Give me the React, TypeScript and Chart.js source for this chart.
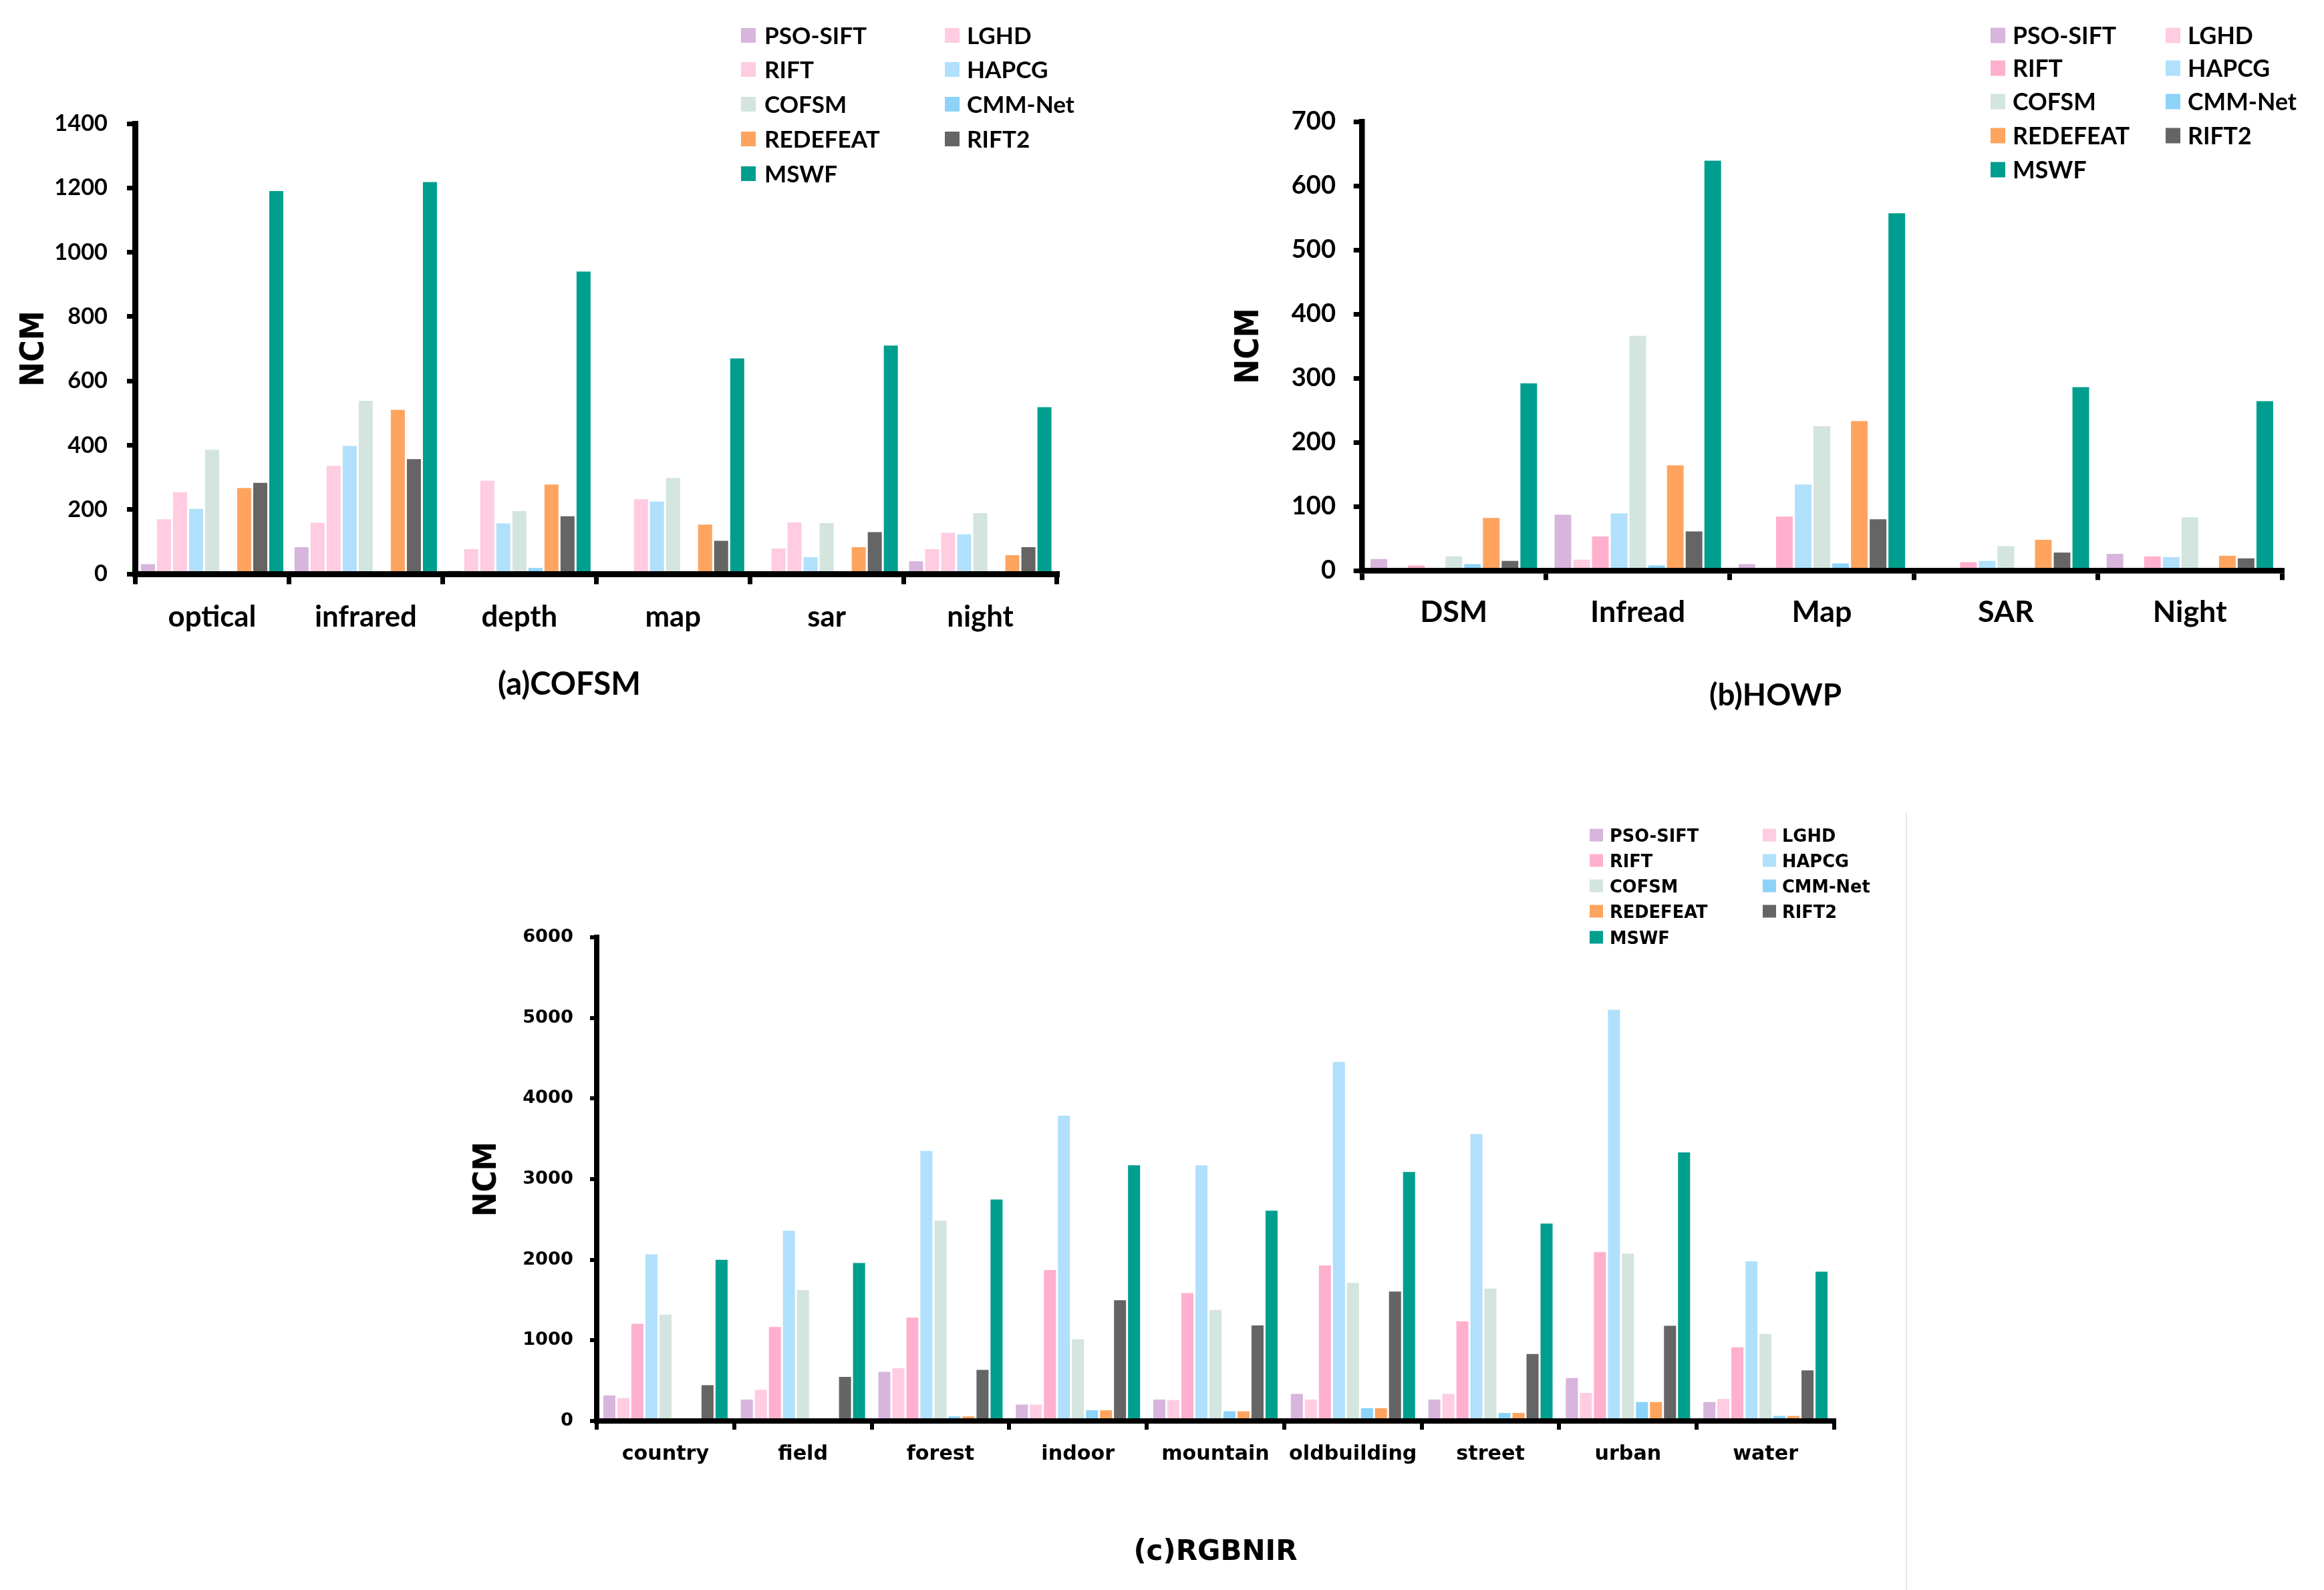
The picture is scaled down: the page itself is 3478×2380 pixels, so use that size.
import React, { useEffect, useRef } from "react";
import { Chart, registerables } from "chart.js";

Chart.register(...registerables);

// ---------------- data ----------------
const METHODS = ["PSO-SIFT", "LGHD", "RIFT", "HAPCG", "COFSM", "CMM-Net", "REDEFEAT", "RIFT2", "MSWF"];

// (a) COFSM dataset
const COFSM_CATEGORIES = ["optical", "infrared", "depth", "map", "sar", "night"];
const COFSM_Y_TICKS = [0, 200, 400, 600, 800, 1000, 1200, 1400];
const COFSM_PSO_SIFT = [30, 83, 10, 0, 0, 39];
const COFSM_LGHD = [170, 159, 77, 0, 79, 77];
const COFSM_RIFT = [254, 336, 290, 232, 160, 128];
const COFSM_HAPCG = [202, 398, 157, 225, 52, 123];
const COFSM_COFSM = [386, 538, 195, 298, 158, 189];
const COFSM_CMMNET = [5, 5, 18, 0, 0, 0];
const COFSM_REDEFEAT = [267, 510, 278, 153, 83, 58];
const COFSM_RIFT2 = [283, 357, 179, 103, 130, 83];
const COFSM_MSWF = [1190, 1218, 940, 670, 710, 518];

// (b) HOWP dataset
const HOWP_CATEGORIES = ["DSM", "Infread", "Map", "SAR", "Night"];
const HOWP_Y_TICKS = [0, 100, 200, 300, 400, 500, 600, 700];
const HOWP_PSO_SIFT = [18, 87, 10, 0, 26];
const HOWP_LGHD = [0, 17, 0, 0, 0];
const HOWP_RIFT = [8, 53, 84, 13, 22];
const HOWP_HAPCG = [0, 89, 134, 15, 21];
const HOWP_COFSM = [22, 366, 225, 38, 83];
const HOWP_CMMNET = [10, 8, 11, 0, 0];
const HOWP_REDEFEAT = [82, 164, 233, 48, 23];
const HOWP_RIFT2 = [15, 61, 80, 28, 19];
const HOWP_MSWF = [292, 639, 557, 286, 264];

// (c) RGBNIR dataset
const RGBNIR_CATEGORIES = ["country", "field", "forest", "indoor", "mountain", "oldbuilding", "street", "urban", "water"];
const RGBNIR_Y_TICKS = [0, 1000, 2000, 3000, 4000, 5000, 6000];
const RGBNIR_PSO_SIFT = [317, 266, 609, 203, 266, 336, 266, 533, 235];
const RGBNIR_LGHD = [285, 387, 654, 203, 260, 266, 336, 349, 273];
const RGBNIR_RIFT = [1205, 1167, 1282, 1872, 1586, 1929, 1237, 2094, 914];
const RGBNIR_HAPCG = [2068, 2360, 3350, 3788, 3172, 4454, 3560, 5101, 1980];
const RGBNIR_COFSM = [1320, 1624, 2487, 1015, 1377, 1713, 1643, 2075, 1079];
const RGBNIR_CMMNET = [30, 20, 57, 133, 120, 159, 100, 235, 63];
const RGBNIR_REDEFEAT = [30, 25, 57, 133, 120, 159, 100, 235, 63];
const RGBNIR_RIFT2 = [444, 546, 634, 1497, 1186, 1605, 831, 1180, 628];
const RGBNIR_MSWF = [1999, 1960, 2747, 3172, 2608, 3090, 2449, 3331, 1853];

// ---------------- styles ----------------
const COLORS_A = ["#D7B5DC", "#FFCCE1", "#FFCCE1", "#B1E0FC", "#D4E4DE", "#8DD3F9", "#FFA45F", "#656565", "#009E8E"];
const COLORS_BC = ["#D7B5DC", "#FFCCE1", "#FFB0CE", "#B1E0FC", "#D4E4DE", "#8DD3F9", "#FFA45F", "#656565", "#009E8E"];

type Spec = {
  key: string;
  box: { x: number; y: number; w: number; h: number };
  area: { l: number; t: number; r: number; b: number };
  categories: string[];
  series: number[][];
  ticks: number[];
  colors: string[];
  barPct: number;
  catPct: number;
  lineW: number;
  tickW: number;
  yTickOut: number;
  xTickOut: number;
  yLabelRight: number;
  xLabelCenter: number;
  ncmX: number;
  title: string;
  titlePos: [number, number];
  legend: { swX: [number, number]; txtX: [number, number]; rows: number[]; swW: number; swH: number };
  fonts: string[];
  fit: { tick: [string, number]; cat: [string, number]; legend: [string, number]; title: [string, number]; ncm: [string, number] };
};

const PANELS: Spec[] = [
  {
    key: "a",
    box: { x: 0, y: 0, w: 1720, h: 1100 },
    area: { l: 202.5, t: 185, r: 1582, b: 859 },
    categories: COFSM_CATEGORIES,
    series: [COFSM_PSO_SIFT, COFSM_LGHD, COFSM_RIFT, COFSM_HAPCG, COFSM_COFSM, COFSM_CMMNET, COFSM_REDEFEAT, COFSM_RIFT2, COFSM_MSWF],
    ticks: COFSM_Y_TICKS,
    colors: COLORS_A,
    barPct: 0.875,
    catPct: 0.94,
    lineW: 9,
    tickW: 7,
    yTickOut: 8,
    xTickOut: 11,
    yLabelRight: 161,
    xLabelCenter: 924,
    ncmX: 52,
    title: "(a)COFSM",
    titlePos: [852, 1025],
    legend: { swX: [1109, 1414], txtX: [1144, 1447], rows: [53, 104, 156, 208, 260], swW: 22, swH: 22 },
    fonts: ["Lato", "Open Sans", "sans-serif"],
    fit: { tick: ["1400", 77], cat: ["optical", 128], legend: ["PSO-SIFT", 150], title: ["(a)COFSM", 209], ncm: ["NCM", 106] },
  },
  {
    key: "b",
    box: { x: 1740, y: 0, w: 1738, h: 1100 },
    area: { l: 2038, t: 182, r: 3415, b: 854 },
    categories: HOWP_CATEGORIES,
    series: [HOWP_PSO_SIFT, HOWP_LGHD, HOWP_RIFT, HOWP_HAPCG, HOWP_COFSM, HOWP_CMMNET, HOWP_REDEFEAT, HOWP_RIFT2, HOWP_MSWF],
    ticks: HOWP_Y_TICKS,
    colors: COLORS_BC,
    barPct: 0.89,
    catPct: 0.916,
    lineW: 8.5,
    tickW: 7,
    yTickOut: 8,
    xTickOut: 10,
    yLabelRight: 1999,
    xLabelCenter: 917,
    ncmX: 1870,
    title: "(b)HOWP",
    titlePos: [2657, 1041],
    legend: { swX: [2979, 3241], txtX: [3012, 3274], rows: [53, 102, 152, 203, 254], swW: 22, swH: 23 },
    fonts: ["Lato", "Open Sans", "sans-serif"],
    fit: { tick: ["700", 64], cat: ["Infread", 136], legend: ["PSO-SIFT", 152], title: ["(b)HOWP", 196], ncm: ["NCM", 106] },
  },
  {
    key: "c",
    box: { x: 640, y: 1180, w: 2200, h: 1200 },
    area: { l: 893, t: 1403, r: 2745, b: 2127 },
    categories: RGBNIR_CATEGORIES,
    series: [RGBNIR_PSO_SIFT, RGBNIR_LGHD, RGBNIR_RIFT, RGBNIR_HAPCG, RGBNIR_COFSM, RGBNIR_CMMNET, RGBNIR_REDEFEAT, RGBNIR_RIFT2, RGBNIR_MSWF],
    ticks: RGBNIR_Y_TICKS,
    colors: COLORS_BC,
    barPct: 0.86,
    catPct: 0.918,
    lineW: 8,
    tickW: 6,
    yTickOut: 6,
    xTickOut: 9,
    yLabelRight: 858,
    xLabelCenter: 2177,
    ncmX: 729,
    title: "(c)RGBNIR",
    titlePos: [1819, 2324],
    legend: { swX: [2379, 2638], txtX: [2409, 2667], rows: [1250, 1288, 1326, 1364, 1403], swW: 20, swH: 19 },
    fonts: ["DejaVu Sans", "Open Sans", "sans-serif"],
    fit: { tick: ["6000", 73], cat: ["oldbuilding", 188], legend: ["PSO-SIFT", 131], title: ["(c)RGBNIR", 241], ncm: ["NCM", 105] },
  },
];

const NCM_FONTS = ["Liberation Sans Narrow", "DejaVu Sans Condensed", "Liberation Sans", "sans-serif"];

// ---------------- helpers ----------------
let measureCtx: CanvasRenderingContext2D | null = null;
function mctx() {
  if (!measureCtx) measureCtx = document.createElement("canvas").getContext("2d");
  return measureCtx as CanvasRenderingContext2D;
}
function famString(list: string[]) {
  return list.map((f) => (f.includes(" ") && f !== "sans-serif" ? `"${f}"` : f)).join(", ");
}
function pickFont(list: string[]) {
  const c = mctx();
  for (const f of list) {
    if (f === "sans-serif") return f;
    c.font = `bold 100px "${f}", monospace`;
    const a = c.measureText("NCM PSO-SIFT abc 0123").width;
    c.font = "bold 100px monospace";
    const b = c.measureText("NCM PSO-SIFT abc 0123").width;
    if (Math.abs(a - b) > 0.5) return `"${f}"`;
  }
  return "sans-serif";
}
function fitSize(text: string, family: string, target: number) {
  const c = mctx();
  c.font = `bold 100px ${family}`;
  const m = c.measureText(text);
  const ink = (m.actualBoundingBoxLeft || 0) + (m.actualBoundingBoxRight || m.width);
  return (100 * target) / ink;
}

function Panel({ spec }: { spec: Spec }) {
  const ref = useRef<HTMLCanvasElement>(null);
  useEffect(() => {
    const s = spec;
    if (!ref.current) return;
    const fam = pickFont(s.fonts);
    const ncmFam = pickFont(NCM_FONTS);
    const tickSize = fitSize(s.fit.tick[0], fam, s.fit.tick[1]);
    const catSize = fitSize(s.fit.cat[0], fam, s.fit.cat[1]);
    const legendSize = fitSize(s.fit.legend[0], fam, s.fit.legend[1]);
    const titleSize = fitSize(s.fit.title[0], fam, s.fit.title[1]);
    const ncmSize = fitSize(s.fit.ncm[0], ncmFam, s.fit.ncm[1]);

    const padTop = s.area.t - s.box.y;
    const padRight = s.box.x + s.box.w - s.area.r;
    const yWidth = s.area.l - s.box.x;
    const xHeight = s.box.y + s.box.h - s.area.b;
    const yTL = s.yTickOut + s.lineW / 2;
    const xTL = s.xTickOut + s.lineW / 2;
    const yPad = s.area.l - yTL - s.yLabelRight;
    const xPad = s.xLabelCenter - s.area.b - xTL - (catSize * 1.2) / 2;
    const ncmPad = s.ncmX - s.box.x - (ncmSize * 1.2) / 2;

    const overlay = {
      id: "overlay_" + s.key,
      afterDraw(chart: any) {
        const ctx: CanvasRenderingContext2D = chart.ctx;
        ctx.save();
        ctx.fillStyle = "#000";
        ctx.font = `bold ${titleSize}px ${fam}`;
        ctx.textAlign = "center";
        ctx.textBaseline = "middle";
        ctx.fillText(s.title, s.titlePos[0] - s.box.x, s.titlePos[1] - s.box.y);
        ctx.font = `bold ${legendSize}px ${fam}`;
        ctx.textAlign = "left";
        ctx.textBaseline = "alphabetic";
        const capH = ctx.measureText("H").actualBoundingBoxAscent;
        chart.data.datasets.forEach((ds: any, i: number) => {
          const col = i % 2;
          const row = Math.floor(i / 2);
          const cy = s.legend.rows[row] - s.box.y;
          ctx.fillStyle = ds.backgroundColor;
          ctx.fillRect(s.legend.swX[col] - s.box.x, cy - s.legend.swH / 2, s.legend.swW, s.legend.swH);
          ctx.fillStyle = "#000";
          ctx.fillText(ds.label, s.legend.txtX[col] - s.box.x, cy + capH / 2);
        });
        ctx.restore();
      },
    };

    const chart = new Chart(ref.current, {
      type: "bar",
      data: {
        labels: s.categories,
        datasets: s.series.map((vals, i) => ({
          label: METHODS[i],
          data: vals,
          backgroundColor: s.colors[i],
          borderWidth: 0,
          barPercentage: s.barPct,
          categoryPercentage: s.catPct,
        })),
      },
      options: {
        responsive: false,
        animation: false,
        devicePixelRatio: 1,
        layout: { padding: { left: 0, top: padTop, right: padRight, bottom: 0 } },
        plugins: {
          legend: { display: false },
          title: { display: false },
          tooltip: { enabled: false },
        },
        scales: {
          x: {
            type: "category",
            offset: true,
            grid: {
              display: true,
              offset: true,
              drawOnChartArea: false,
              drawTicks: true,
              tickLength: xTL,
              tickWidth: s.tickW,
              lineWidth: s.tickW,
              tickColor: "#000",
              color: "#000",
            },
            border: { display: true, width: s.lineW, color: "#000", z: 1 },
            ticks: {
              color: "#000",
              font: { family: fam, size: catSize, weight: "bold" },
              padding: xPad,
              autoSkip: false,
              maxRotation: 0,
              minRotation: 0,
            },
            afterFit: (scale: any) => {
              scale.height = xHeight;
            },
          },
          y: {
            type: "linear",
            min: s.ticks[0],
            max: s.ticks[s.ticks.length - 1],
            grid: {
              display: true,
              drawOnChartArea: false,
              drawTicks: true,
              tickLength: yTL,
              tickWidth: s.tickW,
              lineWidth: s.tickW,
              tickColor: "#000",
              color: "#000",
            },
            border: { display: true, width: s.lineW, color: "#000", z: 1 },
            ticks: {
              color: "#000",
              font: { family: fam, size: tickSize, weight: "bold" },
              padding: yPad,
              callback: (v: any) => String(v),
            },
            afterBuildTicks: (scale: any) => {
              scale.ticks = s.ticks.map((v) => ({ value: v }));
            },
            title: {
              display: true,
              text: "NCM",
              color: "#000",
              font: { family: ncmFam, size: ncmSize, weight: "bold" },
              padding: { top: ncmPad, bottom: 0 },
            },
            afterFit: (scale: any) => {
              scale.width = yWidth;
            },
          },
        },
      } as any,
      plugins: [overlay],
    });
    return () => chart.destroy();
  }, [spec]);
  return (
    <canvas
      ref={ref}
      width={spec.box.w}
      height={spec.box.h}
      style={{ position: "absolute", left: spec.box.x, top: spec.box.y, width: spec.box.w, height: spec.box.h }}
    />
  );
}

export default function App() {
  return (
    <div
      style={{
        position: "fixed",
        left: 0,
        top: 0,
        width: 3478,
        height: 2380,
        background: "#ffffff",
        overflow: "hidden",
      }}
    >
      {PANELS.map((p) => (
        <Panel key={p.key} spec={p} />
      ))}
      <div style={{ position: "absolute", left: 2852, top: 1216, width: 2, height: 1164, background: "#E6E6E6" }} />
    </div>
  );
}
